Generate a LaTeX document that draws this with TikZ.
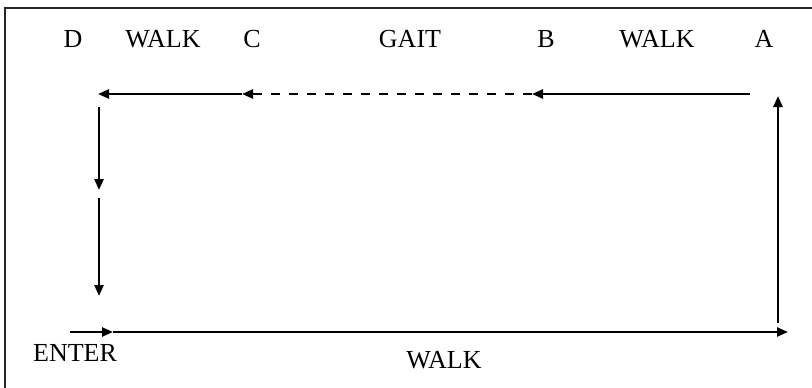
\documentclass[tikz,border=0pt]{standalone}
\usepackage{fontspec}
\setmainfont{Liberation Serif}
\usetikzlibrary{arrows.meta}

\begin{document}
\begin{tikzpicture}[x=1pt, y=-1pt,
    flow/.style={line width=2.4pt, -{Triangle[length=11pt, width=9pt]}},
    lbl/.style={font=\fontsize{26}{30}\selectfont, inner sep=0pt}]
  \useasboundingbox (0,0) rectangle (812,388);
  \begin{scope}
    \clip (0,0) rectangle (812,388);
    \draw[line width=1.4pt, black!85] (5,400) |- (830,8);
  \end{scope}

  % labels along the top
  \node[lbl] (d) at (73,39) {D};
  \node[lbl] (walkdc) at (163,39) {WALK};
  \node[lbl] (c) at (252,39) {C};
  \node[lbl] (gait) at (410,39) {GAIT};
  \node[lbl] (b) at (546,39) {B};
  \node[lbl] (walkba) at (657,39) {WALK};
  \node[lbl] (a) at (764,39) {A};
  \node[lbl] (enter) at (75,353) {ENTER};
  \node[lbl] (walkbot) at (444,360) {WALK};

  % path points
  \coordinate (ptop) at (750,94);
  \coordinate (pb) at (532,94);
  \coordinate (pc) at (242,94);
  \coordinate (pd) at (98,94);
  \coordinate (pl1) at (99,107);
  \coordinate (pl2) at (99,190);
  \coordinate (pl3) at (99,198);
  \coordinate (pl4) at (99,296);
  \coordinate (pin) at (70,332);
  \coordinate (pin2) at (113,332);
  \coordinate (pstart) at (127,332);
  \coordinate (pend) at (788,332);
  \coordinate (pr1) at (778,323);
  \coordinate (pr2) at (778,96);

  \draw[flow] (pin) -- (pin2);
  \draw[line width=1.2pt] (pin2) -- (pstart);
  \draw[flow] (pstart) -- (pend);
  \draw[flow] (pr1) -- (pr2);
  \draw[flow] (ptop) -- (pb);
  \draw[flow, dash pattern=on 9pt off 9pt] (pb) -- (pc);
  \draw[flow] (pc) -- (pd);
  \draw[flow] (pl1) -- (pl2);
  \draw[flow] (pl3) -- (pl4);
\end{tikzpicture}
\end{document}
